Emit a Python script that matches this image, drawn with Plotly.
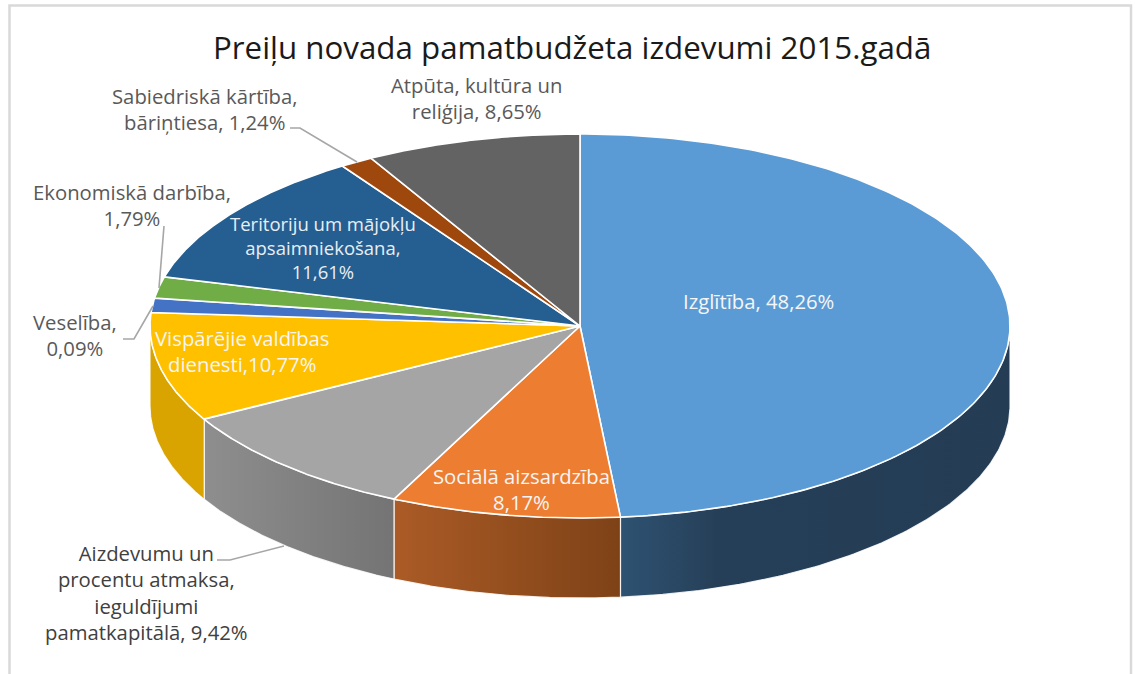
import numpy as np
import plotly.graph_objects as go

TITLE = "Preiļu novada pamatbudžeta izdevumi 2015.gadā"

# Labelled values, clockwise from 12 o'clock
categories = ["Izglītība", "Sociālā aizsardzība", "Aizdevumu un procentu atmaksa, ieguldījumi pamatkapitālā",
              "Vispārējie valdības dienesti", "Veselība", "Ekonomiskā darbība",
              "Teritoriju um mājokļu apsaimniekošana", "Sabiedriskā kārtība, bāriņtiesa", "Atpūta, kultūra un reliģija"]
label_values = [48.26, 8.17, 9.42, 10.77, 0.09, 1.79, 11.61, 1.24, 8.65]
# Shares as the slices are actually drawn in the picture (the 3D perspective distorts
# them, and the Veselība slice is drawn far larger than its 0,09% label)
drawn_shares = [48.5, 8.62, 9.8, 9.2, 1.2, 1.8, 11.56, 1.24, 8.08]

top_colors = ["#5B9BD5", "#ED7D31", "#A5A5A5", "#FFC000", "#4472C4", "#70AD47", "#255E91", "#9E480E", "#636363"]
wall_scales = {
    0: [[0, "#2E5272"], [0.25, "#263F58"], [1, "#243D55"]],
    1: [[0, "#AB5B26"], [1, "#7E4217"]],
    2: [[0, "#8E8E8E"], [1, "#747474"]],
    3: [[0, "#D9A300"], [1, "#D9A300"]],
}

CX, CY, RX, RY, DEPTH = 580, 326, 430, 192, 80


def ellipse(deg, dy=0):
    t = np.radians(deg)
    return CX + RX * np.sin(t), CY - RY * np.cos(t) + dy


fig = go.Figure()
edges = np.concatenate([[0], np.cumsum(drawn_shares)]) * 360 / sum(drawn_shares)

# Side walls (visible only on the front half)
for i, (a, b) in enumerate(zip(edges[:-1], edges[1:])):
    lo, hi = max(a, 90), min(b, 270)
    if hi <= lo:
        continue
    th = np.linspace(lo, hi, 120)
    x1, y1 = ellipse(th)
    x2, y2 = ellipse(th[::-1], DEPTH)
    fig.add_trace(go.Scatter(x=np.r_[x1, x2, x1[0]], y=np.r_[y1, y2, y1[0]], mode="lines", fill="toself",
                             line=dict(color="rgba(255,255,255,0.85)", width=1.2),
                             fillgradient=dict(type="horizontal", colorscale=wall_scales[i]),
                             hoverinfo="skip", showlegend=False))

# Top faces
for i, (a, b) in enumerate(zip(edges[:-1], edges[1:])):
    th = np.linspace(a, b, 240)
    x, y = ellipse(th)
    fig.add_trace(go.Scatter(x=np.r_[CX, x, CX], y=np.r_[CY, y, CY], mode="lines", fill="toself",
                             fillcolor=top_colors[i], line=dict(color="white", width=1.6),
                             name=categories[i], hoverinfo="name", showlegend=False))


def note(x, y, text, color="#595959", size=20.3):
    fig.add_annotation(x=x, y=y, text=text, showarrow=False, xanchor="center", yanchor="middle", align="center",
                       font=dict(color=color, size=size, family="Open Sans"))


def pct(i):
    return f"{label_values[i]:.2f}".replace(".", ",") + "%"


note(572, 47, TITLE, color="#1a1a1a", size=31.3)
note(758, 301, f"Izglītība, {pct(0)}", "#F5F5F5")
note(521, 489, f"Sociālā aizsardzība<br>{pct(1)}", "#F5F5F5")
note(146, 592, f"Aizdevumu un<br>procentu atmaksa,<br>ieguldījumi<br>pamatkapitālā, {pct(2)}", "#404040")
note(242, 351, f"Vispārējie valdības<br>dienesti,{pct(3)}", "#F5F5F5")
note(75, 335, f"Veselība,<br>{pct(4)}")
note(132, 205, f"Ekonomiskā darbība,<br>{pct(5)}")
note(323, 247, f"Teritoriju um mājokļu<br>apsaimniekošana,<br>{pct(6)}", "#E8EEF4", 18.5)
note(204, 108.5, f"Sabiedriskā kārtība,<br>bāriņtiesa, {pct(7)}")
note(477, 98, f"Atpūta, kultūra un<br>reliģija, {pct(8)}")

# Leader lines and chart frame
leader = dict(type="path", line=dict(color="#A6A6A6", width=1.6))
shapes = [
    dict(leader, path="M 290 128 L 300 128 L 357 162"),
    dict(leader, path="M 164 226 L 159 288"),
    dict(leader, path="M 123 339 L 134 339 L 153 306"),
    dict(leader, path="M 217 560 L 230 560 L 284 546"),
    dict(type="path", path="M 9.5 680 L 9.5 5.5 L 1131 5.5 L 1131 680", line=dict(color="#D9D9D9", width=2.5)),
]

fig.update_layout(
    width=1135, height=674, margin=dict(l=0, r=0, t=0, b=0), paper_bgcolor="white", plot_bgcolor="white",
    xaxis=dict(range=[0, 1135], visible=False, fixedrange=True),
    yaxis=dict(range=[674, 0], visible=False, fixedrange=True),
    shapes=shapes, showlegend=False,
)
fig.write_html("out.html", config={"displayModeBar": False},
               post_script="document.body.style.margin='0';document.body.style.overflow='hidden';")
